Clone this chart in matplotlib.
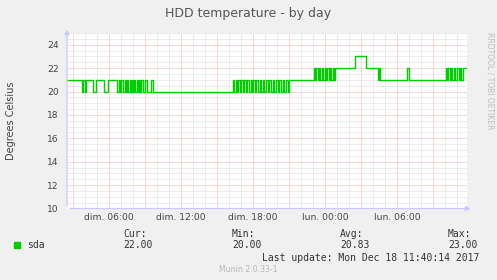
import matplotlib
matplotlib.use("Agg")
import matplotlib.pyplot as plt
from matplotlib.ticker import MultipleLocator

# minutes since dim. 00:00 where the reading changes, and the new value
change_min = [150, 225, 230, 240, 245, 280, 295, 335, 355,
              400, 410, 415, 420, 430, 440, 445, 450, 455, 465, 470, 475, 480, 485,
              490, 500, 505, 510, 515, 520, 530, 540, 550, 570, 580,
              980, 985, 995, 1000, 1005, 1015, 1020, 1030, 1035, 1045, 1050, 1060,
              1070, 1075, 1080, 1090, 1095, 1105, 1115, 1120, 1130, 1135, 1145, 1155,
              1160, 1170, 1180, 1185, 1195, 1205, 1210, 1220, 1230, 1235, 1245, 1255, 1260,
              1385, 1390, 1395, 1405, 1410, 1415, 1425, 1430, 1440, 1445, 1450, 1460,
              1465, 1470, 1480, 1485, 1490, 1590, 1645, 1705, 1710, 1715, 1850, 1860,
              2045, 2050, 2055, 2065, 2070, 2075, 2085, 2090, 2100, 2110, 2115, 2120, 2130]
temps = [21, 20, 21, 20, 21, 20, 21, 20, 21,
         20, 21, 20, 21, 20, 21, 20, 21, 20, 21, 20, 21, 20, 21,
         20, 21, 20, 21, 20, 21, 20, 21, 20, 21, 20,
         21, 20, 21, 20, 21, 20, 21, 20, 21, 20, 21, 20,
         21, 20, 21, 20, 21, 20, 21, 20, 21, 20, 21, 20,
         21, 20, 21, 20, 21, 20, 21, 20, 21, 20, 21, 20, 21,
         22, 21, 22, 21, 22, 21, 22, 21, 22, 21, 22, 21,
         22, 21, 22, 21, 22, 23, 22, 21, 22, 21, 22, 21,
         22, 21, 22, 21, 22, 21, 22, 21, 22, 21, 22, 21, 22]
last_min = 2145

x_labels = ["dim. 06:00", "dim. 12:00", "dim. 18:00", "lun. 00:00", "lun. 06:00"]
x_label_min = [360, 720, 1080, 1440, 1800]

stat_names = ["Cur:", "Min:", "Avg:", "Max:"]
stat_values = ["22.00", "20.00", "20.83", "23.00"]

W, H = 497, 280
fig = plt.figure(figsize=(W / 100, H / 100), dpi=100, facecolor="#f0f0f0")
ax = fig.add_axes([67 / W, 1 - 208.5 / H, 400 / W, 175.5 / H])
ax.set_facecolor("white")

ax.set_xlim(150, 2150)
ax.set_ylim(10, 25)

# grid: gray every hour / 0.5 deg, red every 3 hours / 2 deg
ax.xaxis.set_minor_locator(MultipleLocator(60))
ax.xaxis.set_major_locator(MultipleLocator(180))
ax.yaxis.set_minor_locator(MultipleLocator(0.5))
ax.yaxis.set_major_locator(MultipleLocator(2))
ax.grid(which="minor", color="#dadada", linestyle=(0, (1, 1)), linewidth=0.72)
ax.grid(which="major", color="#f2b0b0", linestyle=(0, (1, 1)), linewidth=0.72)
ax.set_axisbelow(True)
ax.set_xticklabels([])
ax.tick_params(which="both", length=0)
ax.tick_params(axis="y", labelsize=6.6, labelcolor="#444444", pad=6)

# time labels sit between the red lines
for lbl, m in zip(x_labels, x_label_min):
    ax.annotate(lbl, xy=(m, 0), xycoords=("data", "axes fraction"),
                xytext=(0, -3), textcoords="offset points",
                ha="center", va="top", fontsize=6.6, color="#444444")

for s in ax.spines.values():
    s.set_visible(False)

xs = change_min + [last_min]
ys = temps + [temps[-1]]
ax.step(xs, ys, where="post", color="#00cc00", linewidth=1.0)

# axis lines with arrows
axis_col = "#c8c8ff"
ax.annotate("", xy=(1.016, 0), xytext=(0, 0), xycoords="axes fraction",
            arrowprops=dict(arrowstyle="-|>", color=axis_col, lw=0.9, mutation_scale=7),
            annotation_clip=False)
ax.annotate("", xy=(0, 1.035), xytext=(0, 0), xycoords="axes fraction",
            arrowprops=dict(arrowstyle="-|>", color=axis_col, lw=0.9, mutation_scale=7),
            annotation_clip=False)

def fy(py):
    return 1 - py / H

fig.text(248.5 / W, fy(13), "HDD temperature - by day", ha="center", va="center",
         fontsize=9, color="#555555")
fig.text(11 / W, fy(120.5), "Degrees Celsius", ha="center", va="center",
         rotation=90, fontsize=7, color="#444444")
fig.text(490 / W, fy(32), "RRDTOOL / TOBI OETIKER", ha="center", va="top",
         rotation=270, fontsize=5.5, color="#bdbdbd")

# legend block
mono = "DejaVu Sans Mono"
fig.patches.append(plt.Rectangle((14 / W, fy(248)), 6 / W, 6 / H,
                                 transform=fig.transFigure, color="#00cc00"))
fig.text(27 / W, fy(245), "sda", ha="left", va="center", fontsize=7,
         family=mono, color="#333333")
stat_x = [123, 232, 340, 448]
for x0, n, v in zip(stat_x, stat_names, stat_values):
    fig.text(x0 / W, fy(234), n, ha="left", va="center", fontsize=7, family=mono, color="#333333")
    fig.text(x0 / W, fy(245.5), v, ha="left", va="center", fontsize=7, family=mono, color="#333333")
fig.text(262 / W, fy(258), "Last update: Mon Dec 18 11:40:14 2017", ha="left", va="center",
         fontsize=7, family=mono, color="#333333")
fig.text(219 / W, fy(269.5), "Munin 2.0.33-1", ha="left", va="center",
         fontsize=5.6, color="#b8b8b8")

fig.savefig("out.png", dpi=100, facecolor=fig.get_facecolor())
